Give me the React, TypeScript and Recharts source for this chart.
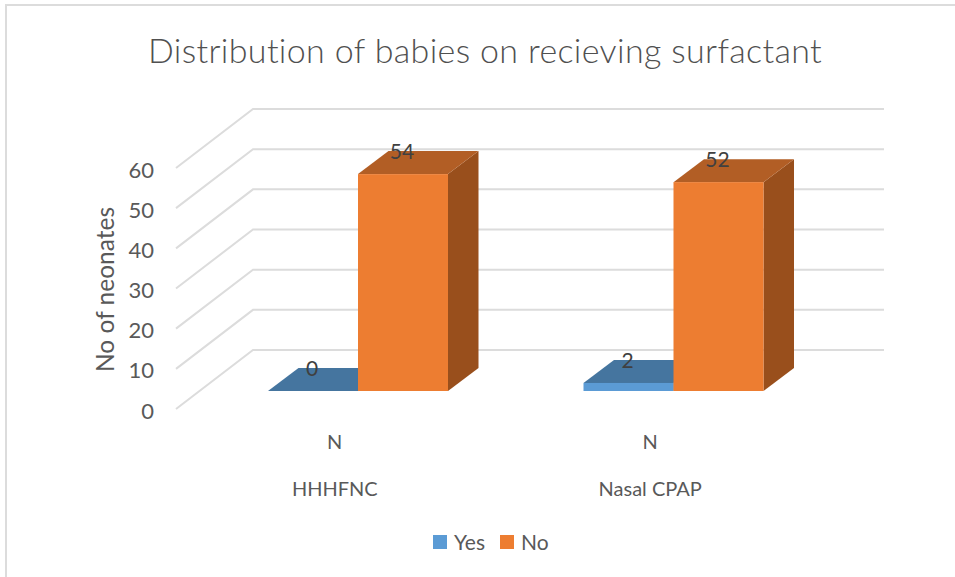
import React from "react"
import { BarChart, Bar, XAxis, YAxis, CartesianGrid, Legend, LabelList } from "recharts"

const categories = ["HHHFNC", "Nasal CPAP"]
const innerLabels = ["N", "N"]
const yesValues = [0, 2]
const noValues = [54, 52]
const valueTicks = [0, 10, 20, 30, 40, 50, 60]

const chartData = categories.map((name, i) => ({
  name,
  inner: innerLabels[i],
  Yes: yesValues[i],
  No: noValues[i],
}))

const FONT = "Lato, Carlito, sans-serif"
const TEXT = "#595959"
const GRID = "#dcdcdc"

// depth of one bar, and how far the floor reaches in front of / behind the bars
const BAR_DX = 30.5
const BAR_DY = 23
const FRONT_DX = 24
const FRONT_DY = 18
const BACK_DX = 53
const BACK_DY = 41

function box(fill: string, top: string, side: string) {
  return (p: any) => {
    const { x, y, width, height } = p
    const r = x + width
    const b = y + height
    return (
      <g>
        <polygon points={`${r},${y} ${r + BAR_DX},${y - BAR_DY} ${r + BAR_DX},${b - BAR_DY} ${r},${b}`} fill={side} />
        <polygon points={`${x},${y} ${x + BAR_DX},${y - BAR_DY} ${r + BAR_DX},${y - BAR_DY} ${r},${y}`} fill={top} />
        <rect x={x} y={y} width={width} height={height} fill={fill} />
      </g>
    )
  }
}

// each gridline runs along the left wall and then across the back wall
function wallLine(p: any) {
  const { x1, x2, y1 } = p
  return (
    <polyline
      key={y1}
      points={`${x1 - FRONT_DX},${y1 + FRONT_DY} ${x1 + BACK_DX},${y1 - BACK_DY} ${x2 + BACK_DX},${y1 - BACK_DY}`}
      fill="none"
      stroke={GRID}
      strokeWidth={2}
    />
  )
}

function ValueTick(p: any) {
  return (
    <text x={154} y={p.y + FRONT_DY + 9.5} textAnchor="end" fontFamily={FONT} fontSize={22} fill={TEXT}>
      {p.payload.value}
    </text>
  )
}

function CategoryTick(p: any) {
  const row = chartData[p.index]
  const cx = p.x - 23
  return (
    <g fontFamily={FONT} fill={TEXT} textAnchor="middle">
      <text x={cx} y={449} fontSize={20}>{row.inner}</text>
      <text x={cx} y={496} fontSize={20}>{row.name}</text>
    </g>
  )
}

function ValueLabel(p: any) {
  return (
    <text
      x={p.x + p.width / 2 - 1}
      y={p.y - 15}
      textAnchor="middle"
      fontFamily={FONT}
      fontSize={21}
      fill="#404040"
    >
      {p.value}
    </text>
  )
}

function LegendRow({ payload }: any) {
  return (
    <div style={{ display: "flex", fontFamily: FONT, fontSize: 21, color: TEXT, lineHeight: "24px" }}>
      {(payload || []).map((item: any) => (
        <div key={item.value} style={{ display: "flex", alignItems: "center", marginRight: 15 }}>
          <span style={{ width: 14, height: 14, background: item.color, marginRight: 7 }} />
          {item.value}
        </div>
      ))}
    </div>
  )
}

export default function App() {
  return (
    <div style={{ position: "absolute", left: 0, top: 0, width: 955, height: 577, background: "#fff", overflow: "hidden" }}>
      <div style={{ position: "absolute", left: 5, top: 4, width: 950, height: 2, background: GRID }} />
      <div style={{ position: "absolute", left: 5, top: 4, width: 2, height: 573, background: GRID }} />
      <BarChart
        width={955}
        height={577}
        data={chartData}
        barSize={90}
        barGap={0}
        margin={{ top: 150, right: 124, bottom: 185, left: 199 }}
        style={{ position: "absolute", left: 0, top: 0 }}
      >
        <CartesianGrid vertical={false} horizontal={wallLine} />
        <XAxis dataKey="name" height={1} axisLine={false} tickLine={false} interval={0} tick={CategoryTick} />
        <YAxis width={1} domain={[0, 60]} ticks={valueTicks} axisLine={false} tickLine={false} interval={0} tick={ValueTick} />
        <Legend
          layout="horizontal"
          verticalAlign="middle"
          itemSorter={null}
          content={LegendRow}
          wrapperStyle={{ position: "absolute", left: 433, top: 530, width: 200 }}
        />
        <Bar dataKey="Yes" fill="#5b9bd5" isAnimationActive={false} shape={box("#5b9bd5", "#45759f", "#34587a")}>
          <LabelList dataKey="Yes" content={ValueLabel} />
        </Bar>
        <Bar dataKey="No" fill="#ed7d31" isAnimationActive={false} shape={box("#ed7d31", "#b25e25", "#994f1c")}>
          <LabelList dataKey="No" content={ValueLabel} />
        </Bar>
        <text x={485} y={63} textAnchor="middle" fontFamily={FONT} fontWeight={300} fontSize={34} letterSpacing={0.35} fill="#505050">
          Distribution of babies on recieving surfactant
        </text>
        <text
          transform="translate(114 289.5) rotate(-90)"
          textAnchor="middle"
          fontFamily={FONT}
          fontSize={24.5}
          fill={TEXT}
        >
          No of neonates
        </text>
      </BarChart>
    </div>
  )
}
